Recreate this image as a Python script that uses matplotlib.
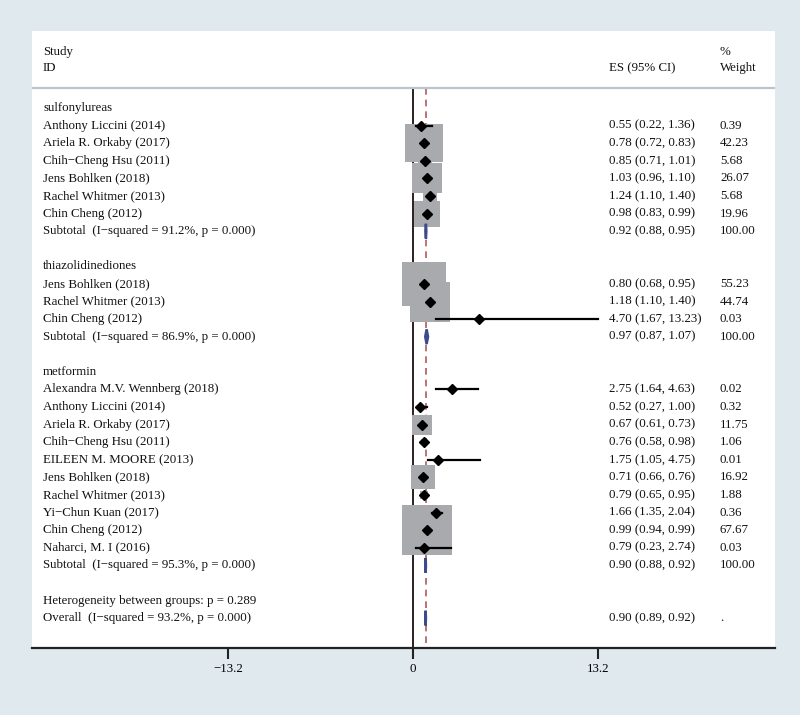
import matplotlib
matplotlib.use("Agg")
import matplotlib.pyplot as plt
import numpy as np

# groups of studies
groups = ["sulfonylureas", "thiazolidinediones", "metformin"]

studies = [
    ["Anthony Liccini (2014)", "Ariela R. Orkaby (2017)", "Chih\u2212Cheng Hsu (2011)",
     "Jens Bohlken (2018)", "Rachel Whitmer (2013)", "Chin Cheng (2012)"],
    ["Jens Bohlken (2018)", "Rachel Whitmer (2013)", "Chin Cheng (2012)"],
    ["Alexandra M.V. Wennberg (2018)", "Anthony Liccini (2014)", "Ariela R. Orkaby (2017)",
     "Chih\u2212Cheng Hsu (2011)", "EILEEN M. MOORE (2013)", "Jens Bohlken (2018)",
     "Rachel Whitmer (2013)", "Yi\u2212Chun Kuan (2017)", "Chin Cheng (2012)",
     "Naharci, M. I (2016)"],
]
es = [
    [0.55, 0.78, 0.85, 1.03, 1.24, 0.98],
    [0.80, 1.18, 4.70],
    [2.75, 0.52, 0.67, 0.76, 1.75, 0.71, 0.79, 1.66, 0.99, 0.79],
]
lo = [
    [0.22, 0.72, 0.71, 0.96, 1.10, 0.83],
    [0.68, 1.10, 1.67],
    [1.64, 0.27, 0.61, 0.58, 1.05, 0.66, 0.65, 1.35, 0.94, 0.23],
]
hi = [
    [1.36, 0.83, 1.01, 1.10, 1.40, 0.99],
    [0.95, 1.40, 13.23],
    [4.63, 1.00, 0.73, 0.98, 4.75, 0.76, 0.95, 2.04, 0.99, 2.74],
]
weights = [
    [0.39, 42.23, 5.68, 26.07, 5.68, 19.96],
    [55.23, 44.74, 0.03],
    [0.02, 0.32, 11.75, 1.06, 0.01, 16.92, 1.88, 0.36, 67.67, 0.03],
]
sub_es = [0.92, 0.97, 0.90]
sub_lo = [0.88, 0.87, 0.88]
sub_hi = [0.95, 1.07, 0.92]
sub_i2 = [91.2, 86.9, 95.3]
sub_p = [0.000, 0.000, 0.000]

het_p = 0.289
overall_es, overall_lo, overall_hi = 0.90, 0.89, 0.92
overall_i2, overall_p = 93.2, 0.000

xticks = [-13.2, 0, 13.2]

bg = "#dfe9ee"
box_color = "#a9aaae"
diamond_color = "#3d4b8c"
ref_color = "#b05a5a"
FS = 9.3
plt.rcParams["font.family"] = ["Liberation Serif", "DejaVu Serif"]

fig = plt.figure(figsize=(8, 7.15), dpi=100, facecolor=bg)
ax = fig.add_axes([0.04, 1 - 648 / 715, 0.92875, (648 - 31) / 715])
ax.set_facecolor("white")
ax.set_xlim(-27.19, 25.83)
ax.set_ylim(30.7, -4.38)
for s in ["top", "left", "right"]:
    ax.spines[s].set_visible(False)
ax.spines["bottom"].set_linewidth(1.6)
ax.spines["bottom"].set_color("#222222")
ax.set_yticks([])
ax.set_xticks(xticks)
ax.set_xticklabels([f"{t:g}".replace("-", "\u2212") for t in xticks], fontsize=FS)
ax.tick_params(axis="x", length=8, width=1.5, color="#222222", pad=3)

trans = ax.get_yaxis_transform()  # x in axes fraction, y in data
name_x = 11 / 743
es_x = 577 / 743
w_x = 688 / 743


def txt(x, y, s):
    ax.text(x, y, s, fontsize=FS, va="center", transform=trans, color="#111111")


# header
txt(name_x, -3.18, "Study")
txt(name_x, -2.27, "ID")
txt(es_x, -2.27, "ES (95% CI)")
txt(w_x, -3.18, "%")
txt(w_x, -2.27, "Weight")
ax.axhline(-1.14, color="#b9c4cc", lw=1.6)

top_line = -1.14
ax.plot([0, 0], [top_line, 30.7], color="#2a1f1f", lw=1.4, zorder=1)
ax.plot([overall_es, overall_es], [top_line, 30.7], color=ref_color, lw=1.2,
        ls=(0, (4, 3)), zorder=1)

side_px = 5.96  # square side in px per sqrt(weight)


def diamond(y, e, l, h):
    xs = [l, e, h, e, l]
    ys = [y, y - 0.42, y, y + 0.42, y]
    ax.fill(xs, ys, color=diamond_color, lw=1.8, edgecolor=diamond_color, zorder=3)


row = 0
for g in range(len(groups)):
    txt(name_x, row, groups[g])
    row += 1
    for i in range(len(studies[g])):
        w = weights[g][i]
        ax.scatter([es[g][i]], [row], marker="s", s=(side_px * 0.72) ** 2 * w,
                   color=box_color, linewidths=0, zorder=2)
        ax.plot([lo[g][i], hi[g][i]], [row, row], color="black", lw=1.6, zorder=4)
        ax.plot([es[g][i]], [row], marker="D", ms=5, color="black", zorder=5)
        txt(name_x, row, studies[g][i])
        txt(es_x, row, f"{es[g][i]:.2f} ({lo[g][i]:.2f}, {hi[g][i]:.2f})")
        txt(w_x, row, f"{w:.2f}")
        row += 1
    txt(name_x, row, f"Subtotal  (I\u2212squared = {sub_i2[g]:.1f}%, p = {sub_p[g]:.3f})")
    txt(es_x, row, f"{sub_es[g]:.2f} ({sub_lo[g]:.2f}, {sub_hi[g]:.2f})")
    txt(w_x, row, "100.00")
    diamond(row, sub_es[g], sub_lo[g], sub_hi[g])
    row += 2

txt(name_x, row, f"Heterogeneity between groups: p = {het_p:.3f}")
row += 1
txt(name_x, row, f"Overall  (I\u2212squared = {overall_i2:.1f}%, p = {overall_p:.3f})")
txt(es_x, row, f"{overall_es:.2f} ({overall_lo:.2f}, {overall_hi:.2f})")
txt(w_x, row, ".")
diamond(row, overall_es, overall_lo, overall_hi)

fig.savefig("out.png", dpi=100, facecolor=bg)
